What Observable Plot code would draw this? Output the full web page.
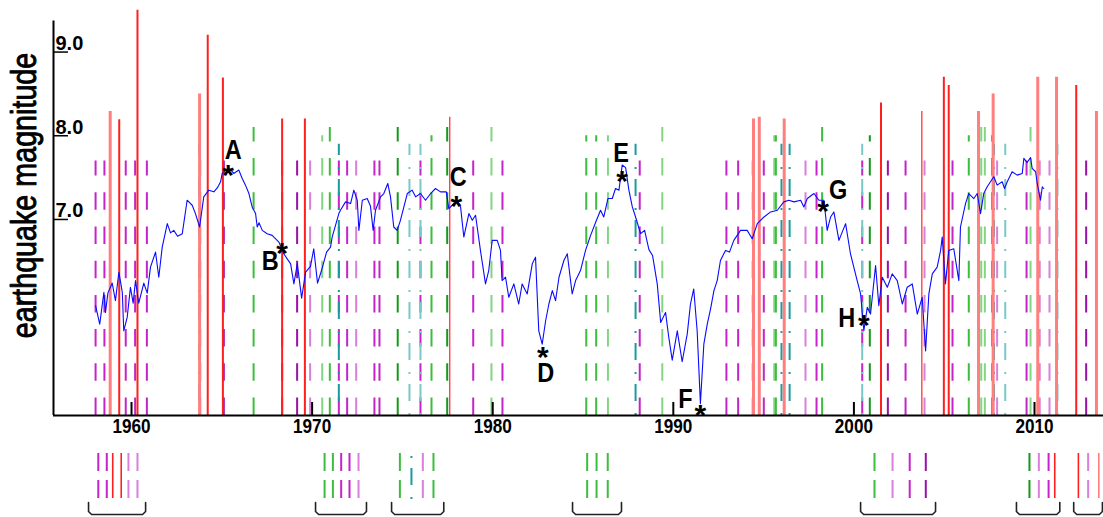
<!DOCTYPE html>
<html><head><meta charset="utf-8">
<script src="https://cdn.jsdelivr.net/npm/d3@7"></script>
<script src="https://cdn.jsdelivr.net/npm/@observablehq/plot@0.6"></script>
<style>
html,body{margin:0;padding:0;background:#fff}
svg{display:block}
</style>
</head><body><div id="chart"></div>
<script>
// ---------- data ----------
const decades = [1960, 1970, 1980, 1990, 2000, 2010];
const yTicks = [7.0, 8.0, 9.0];
const yTitle = "earthquake magnitude";

// blue index line
const lineYears = [
1958.01,1958.24,1958.47,1958.56,1958.69,1958.93,1959.11,1959.30,1959.49,1959.57,
1959.76,1959.94,1960.09,1960.22,1960.40,1960.68,1960.87,1961.05,1961.33,1961.51,
1961.70,1961.98,1962.16,1962.34,1962.55,1962.81,1963.08,1963.36,1963.54,1963.77,
1964.00,1964.28,1964.56,1964.76,1964.93,1965.02,1965.39,1965.66,1965.94,1966.13,
1966.31,1966.50,1966.68,1966.87,1966.96,1967.06,1967.24,1967.51,1967.79,1968.16,
1968.43,1968.81,1968.99,1969.18,1969.42,1969.64,1969.91,1970.09,1970.30,1970.52,
1970.80,1971.02,1971.11,1971.48,1971.57,1971.85,1972.13,1972.31,1972.50,1972.59,
1972.78,1973.05,1973.23,1973.38,1973.51,1973.79,1973.97,1974.19,1974.34,1974.52,
1974.71,1974.89,1975.27,1975.54,1975.73,1976.00,1976.28,1976.56,1976.83,1977.11,
1977.43,1977.57,1977.76,1978.03,1978.22,1978.40,1978.68,1978.87,1979.05,1979.32,
1979.60,1979.78,1979.97,1980.25,1980.43,1980.52,1980.71,1980.89,1981.17,1981.44,
1981.63,1981.91,1982.19,1982.37,1982.55,1982.74,1982.93,1983.11,1983.30,1983.48,
1983.67,1983.94,1984.13,1984.40,1984.59,1984.86,1985.14,1985.42,1985.69,1985.97,
1986.15,1986.38,1986.62,1986.80,1986.99,1987.17,1987.36,1987.54,1987.73,1987.91,
1988.19,1988.41,1988.65,1988.85,1989.11,1989.30,1989.57,1989.75,1989.94,1990.22,
1990.49,1990.77,1990.95,1991.13,1991.32,1991.50,1991.69,1991.88,1992.06,1992.25,
1992.43,1992.61,1992.89,1993.11,1993.35,1993.72,1994.09,1994.37,1994.65,1995.02,
1995.39,1995.76,1996.12,1996.40,1996.68,1997.05,1997.23,1997.42,1997.79,1998.06,
1998.34,1998.52,1998.71,1998.89,1999.17,1999.54,1999.72,1999.81,2000.18,2000.37,
2000.55,2000.74,2000.92,2001.20,2001.38,2001.57,2001.85,2002.12,2002.40,2002.68,
2002.95,2003.23,2003.51,2003.78,2003.97,2004.15,2004.34,2004.61,2004.80,2004.89,
2005.07,2005.25,2005.53,2005.81,2005.90,2006.18,2006.36,2006.64,2006.83,2007.01,
2007.19,2007.38,2007.56,2007.75,2007.93,2008.21,2008.34,2008.49,2008.76,2009.04,
2009.32,2009.41,2009.59,2009.78,2009.87,2010.06,2010.15,2010.33,2010.43,2010.51];
const lineValues = [
5.97,5.75,6.13,5.89,6.12,6.24,6.03,6.37,6.13,5.67,
5.83,6.19,6.00,6.27,6.00,6.24,6.12,6.43,6.61,6.31,
6.67,6.95,6.84,6.87,6.80,6.83,7.23,7.17,7.07,6.91,
7.27,7.35,7.33,7.38,7.45,7.55,7.62,7.55,7.59,7.49,
7.41,7.31,7.15,7.07,6.91,6.96,6.87,6.83,6.81,6.73,
6.59,6.47,6.23,6.47,6.06,6.37,6.44,6.65,6.24,6.39,
6.61,6.67,6.79,7.07,7.11,7.21,7.19,7.35,7.23,6.87,
7.23,7.25,7.16,6.87,7.11,7.27,7.31,7.43,7.27,6.91,
6.87,6.99,7.31,7.35,7.27,7.31,7.23,7.31,7.37,7.33,
7.33,7.13,7.17,7.23,7.15,6.79,7.07,6.99,7.05,6.63,
6.23,6.39,6.75,6.75,6.63,6.27,6.31,6.07,6.23,5.99,
6.23,6.11,6.47,6.55,5.67,5.51,5.79,5.99,6.15,6.03,
6.31,6.51,6.59,6.11,6.27,6.39,6.63,6.81,6.96,7.11,
7.03,7.25,7.25,7.37,7.35,7.65,7.62,7.35,7.15,7.03,
6.83,6.87,6.64,6.57,6.23,5.77,5.89,5.59,5.32,5.67,
5.30,5.63,5.99,6.17,5.67,4.80,5.51,5.75,5.93,6.15,
6.27,6.51,6.63,6.61,6.75,6.87,6.87,6.77,6.95,7.03,
7.09,7.11,7.21,7.23,7.21,7.23,7.15,7.25,7.31,7.23,
7.23,6.87,7.03,7.09,6.75,6.95,6.71,6.59,6.27,6.11,
5.67,5.95,5.87,6.45,5.97,6.31,6.19,6.35,6.27,5.99,
6.19,6.23,5.87,6.07,5.43,6.11,6.35,6.43,6.63,6.79,
6.23,6.63,6.65,6.27,6.91,7.19,7.31,7.25,7.31,7.07,
7.31,7.39,7.45,7.51,7.41,7.45,7.37,7.45,7.57,7.53,
7.55,7.73,7.68,7.74,7.61,7.57,7.43,7.23,7.39,7.37];

// magnitude ~7.7 events (magenta dashed)
const magentaMag = 7.7;
const magentaYears = [1958.01,1958.50,1959.68,1960.20,1960.85,1963.80,1965.11,1968.34,1969.17,1969.89,
  1971.48,1971.94,1972.44,1973.45,1973.73,1976.00,1978.92,1980.54,1988.14,1992.94,
  1993.59,1994.40,1995.01,1997.32,1997.93,2000.46,2001.88,2002.86,2003.91,2005.46,
  2007.93,2009.56,2010.29,2010.83,2012.86];
const magentaShades = ["m","m","m","m","m","m","md","m","md","ml",
  "m","m","ml","m","m","m","m","m","m","m",
  "m","m","m","ml","m","m","md","m","ml","m",
  "ml","m","ml","ml","md"];

// magnitude 7.9 events (teal dash-dot)
const tealMag = 7.9;
const tealYears = [1963.75,1971.48,1975.39,1976.00,1987.91,1995.99,1996.44,2000.46,2007.75,2008.38,2011.26];
const tealShades = ["t","t","tl","tl","t","t","t","tl","t","tl","t"];

// magnitude 8.0–8.1 events (green dashed)
const greenYears = [1966.76,1970.56,1970.98,1974.74,1976.61,1977.48,1979.93,1985.18,1985.73,1986.38,
  1989.39,1995.59,1995.68,1998.24,2000.88,2006.36,2007.05,2007.25,2007.66,2009.78];
const greenMags = [8.1,8.0,8.1,8.1,8.0,8.1,8.1,8.0,8.0,8.0,
  8.1,8.0,8.0,8.1,8.0,8.0,8.1,8.1,8.0,8.1];
const greenShades = ["g","gl","g","gd","g","gd","gl","g","g","gl",
  "gl","gl","g","g","gd","g","gl","gl","gd","gl"];

// great earthquakes (red solid)
const majorYears = [1958.82,1959.32,1960.33,1963.77,1964.22,1965.06,1968.34,1969.60,1977.62,1994.44,
  1994.76,1996.14,2001.50,2003.76,2004.98,2005.25,2006.90,2007.71,2010.18,2011.22,2012.31,2013.43];
const majorMags = [8.29,8.19,9.5,8.5,9.2,8.69,8.2,8.2,8.22,8.2,
  8.22,8.2,8.39,8.29,8.7,8.6,8.29,8.5,8.7,8.7,8.6,8.29];
const majorShades = ["rl","r","r","rl","r","r","r","r","rt","rl",
  "rl","rl","r","rt","r","r","rl","rl","rl","rl","r","rl"];

// marked points A–H
const pointLabels = ["A","B","C","D","E","F","G","H"];
const pointYears = [1965.35,1968.34,1977.98,1982.77,1987.17,1991.50,1998.30,2000.55];
const pointValues = [7.62,6.69,7.25,5.45,7.55,4.76,7.19,5.83];

// lower strip: clustered events
const stripYears = [1958.16,1958.63,1958.96,1959.43,1959.83,1960.33,
  1970.69,1971.15,1971.61,1972.07,1972.57,
  1974.86,1975.50,1976.13,1976.72,
  1985.23,1985.75,1986.37,
  2001.14,2002.14,2003.09,2003.98,
  2009.72,2010.24,2010.78,2011.12,
  2012.43,2012.97,2013.56];
const stripShades = ["m","m","r","r","ml","ml",
  "g","g","m","m","ml",
  "g","t","ml","g",
  "g","g","g",
  "g","ml","m","md",
  "gd","ml","m","r",
  "r","ml","rl"];
const bracketStarts = [1957.62,1970.19,1974.40,1984.42,2000.37,2009.00,2012.17];
const bracketEnds   = [1960.78,1973.01,1977.29,1987.13,2004.52,2011.40,2013.76];

// ---------- layout / style ----------
const X_MIN = 1955.68, X_MAX = 2013.82;
const Y_BASE = 4.658, Y_TOP = 9.616, AXIS_TOP = 9.37;
const COLORS = {m:"#c424c9", ml:"#d880dc", md:"#9a10a8", g:"#3dbd3d", gl:"#82d682", gd:"#15991a",
  t:"#1c9a9c", tl:"#7ac8c8", r:"#ff1f1f", rl:"#ff7e7e", rt:"#ff3535"};
const WIDTHS = {r:2, rl:3, rt:1.3};
const FONT = "'Liberation Sans', Arial, Helvetica, sans-serif";
const LABEL_OFFSETS = {A:[5,-18], B:[-12,16], C:[2,-22], D:[3,24], E:[-1,-20], F:[-15,-8], G:[15,-14], H:[-17,1]};

const magenta = magentaYears.map((year,i)=>({year, mag: magentaMag, shade: magentaShades[i]}));
const teal = tealYears.map((year,i)=>({year, mag: tealMag, shade: tealShades[i]}));
const green = greenYears.map((year,i)=>({year, mag: greenMags[i], shade: greenShades[i]}));
const major = majorYears.map((year,i)=>({year, mag: majorMags[i], shade: majorShades[i]}));
const series = lineYears.map((year,i)=>({year, value: lineValues[i]}));
const points = pointLabels.map((label,i)=>({label, year: pointYears[i], value: pointValues[i]}));

const dashed = (data, dash) => Plot.ruleX(data, {x:"year", y1: Y_BASE, y2:"mag",
  stroke: d => COLORS[d.shade], strokeWidth: 2, strokeDasharray: dash});

const main = Plot.plot({
  width: 1103, height: 445,
  marginLeft: 53, marginRight: 0, marginTop: 0, marginBottom: 30,
  x: {domain: [X_MIN, X_MAX], axis: null},
  y: {domain: [Y_BASE, Y_TOP], axis: null},
  color: {type: "identity"},
  style: {background: "white", overflow: "visible", fontFamily: FONT},
  marks: [
    dashed(magenta, "17.5,16.7"),
    dashed(green, "17.5,16.7"),
    dashed(teal, "2,12,17,10"),
    ...["r","rl","rt"].map(s => Plot.ruleX(major.filter(d=>d.shade===s), {x:"year", y1: Y_BASE, y2:"mag",
      stroke: COLORS[s], strokeWidth: WIDTHS[s]})),
    Plot.line(series, {x:"year", y:"value", stroke:"#0a0aff", strokeWidth: 1.1}),
    // axes
    Plot.ruleY([Y_BASE], {stroke:"black", strokeWidth: 2}),
    Plot.ruleX([X_MIN], {y1: Y_BASE, y2: AXIS_TOP, stroke:"black", strokeWidth: 2}),
    Plot.ruleX(decades, {x: d=>d, y1: Y_BASE, y2: Y_BASE, insetBottom: 13, stroke:"black", strokeWidth: 2}),
    Plot.ruleY(yTicks, {y: d=>d, x1: X_MIN, x2: X_MIN, insetRight: -15, stroke:"black", strokeWidth: 1.5}),
    Plot.text(decades, {x: d=>d, frameAnchor:"bottom", dy: 17, text: d=>String(d), fontSize: 19.5, fontWeight:"bold", fill:"black"}),
    Plot.text(yTicks, {y: d=>d, frameAnchor:"left", dx: 2, dy: -8.5, textAnchor:"start", text: d=>d.toFixed(1),
      fontSize: 20, fontWeight:"bold", fill:"black"}),
    Plot.text([yTitle], {frameAnchor:"left", dx: -29, dy: -12.5, rotate: -90, textAnchor:"middle",
      fontSize: 35, fill:"black", stroke:"black", strokeWidth: 0.9}),
    // annotations
    Plot.text(points, {x:"year", y:"value", text: () => "*", fontSize: 30, fontWeight:"bold", dy: 8, fill:"black"}),
    ...points.map(p => Plot.text([p], {x:"year", y:"value", text:"label", dx: LABEL_OFFSETS[p.label][0], dy: LABEL_OFFSETS[p.label][1],
      fontSize: 28, fontWeight:"bold", fill:"black"}))
  ]
});

// narrow the typeface like the reference (Arial Narrow look): horizontal scale about each text's anchor
function condense(svg, strings, sx) {
  const set = new Set(strings.map(String));
  d3.select(svg).selectAll("text").filter(function() { return set.has(this.textContent); }).each(function() {
    const t = d3.select(this);
    const tr = t.attr("transform") || "";
    t.attr("transform", `${tr} scale(${sx},1)`);
  });
}
condense(main, [yTitle], 0.82);
condense(main, decades, 0.88);
condense(main, pointLabels, 0.84);

const strip = stripYears.map((year,i)=>({year, shade: stripShades[i]}));
const bracketPts = [];
bracketStarts.forEach((s,i) => {
  const e = bracketEnds[i], k = 0.17;
  [[s,57],[s,66],[s+k,69],[e-k,69],[e,66],[e,57]].forEach(([x,y]) => bracketPts.push({id:i, x, y}));
});

const lower = Plot.plot({
  width: 1103, height: 72,
  marginLeft: 53, marginRight: 0, marginTop: 0, marginBottom: 0,
  x: {domain: [X_MIN, X_MAX], axis: null},
  y: {domain: [0, 72], range: [0, 72], axis: null},
  color: {type: "identity"},
  style: {background: "white", overflow: "visible"},
  marks: [
    Plot.ruleX(strip.filter(d => d.shade[0]!=="r" && d.shade[0]!=="t"), {x:"year", y1: 8, y2: 54,
      stroke: d => COLORS[d.shade], strokeWidth: 2, strokeDasharray: "18,9"}),
    Plot.ruleX(strip.filter(d => d.shade[0]==="t"), {x:"year", y1: 11, y2: 54,
      stroke: d => COLORS[d.shade], strokeWidth: 2, strokeDasharray: "2,10,17,12"}),
    Plot.ruleX(strip.filter(d => d.shade[0]==="r"), {x:"year", y1: 8, y2: 53,
      stroke: d => COLORS[d.shade], strokeWidth: 1.6}),
    Plot.line(bracketPts, {x:"x", y:"y", z:"id", stroke:"#222", strokeWidth: 1.6, strokeLinejoin:"round"})
  ]
});

const root = document.getElementById("chart");
root.appendChild(main);
root.appendChild(lower);
</script></body></html>
